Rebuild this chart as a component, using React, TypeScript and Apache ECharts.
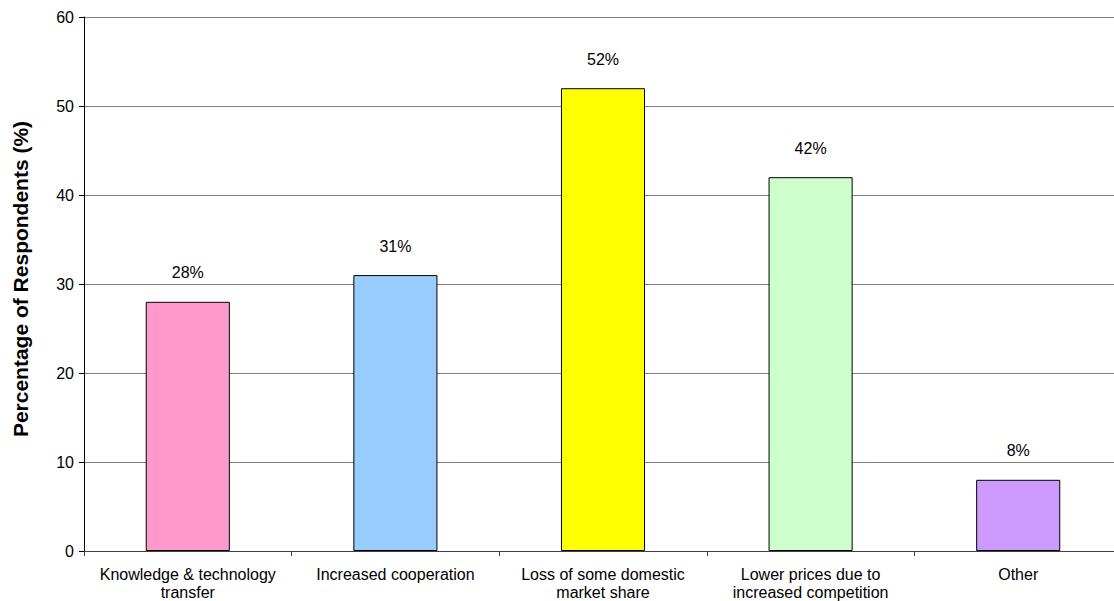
import React, { useEffect, useRef } from "react";
import * as echarts from "echarts";

const categories = [
  "Knowledge & technology\ntransfer",
  "Increased cooperation",
  "Loss of some domestic\nmarket share",
  "Lower prices due to\nincreased competition",
  "Other",
];
const values = [28, 31, 52, 42, 8];
const barColors = ["#FF99CC", "#99CCFF", "#FFFF00", "#CCFFCC", "#CC99FF"];
const yTicks = [0, 10, 20, 30, 40, 50, 60];

export default function App() {
  const ref = useRef<HTMLDivElement>(null);
  useEffect(() => {
    if (!ref.current) return;
    const chart = echarts.init(ref.current, null, { renderer: "svg" });
    const font = "'Liberation Sans', Arial, sans-serif";
    chart.setOption({
      animation: false,
      grid: { left: 84, right: 0, top: 17, bottom: 49, containLabel: false },
      xAxis: {
        type: "category",
        data: categories,
        axisLine: { lineStyle: { color: "#404040", width: 1 } },
        axisTick: { show: true, length: 5, alignWithLabel: false, lineStyle: { color: "#404040" } },
        axisLabel: {
          color: "#000",
          fontFamily: font,
          fontSize: 16,
          lineHeight: 18,
          margin: 14,
          interval: 0,
        },
        splitLine: { show: false },
      },
      yAxis: {
        type: "value",
        min: yTicks[0],
        max: yTicks[yTicks.length - 1],
        interval: 10,
        name: "Percentage of Respondents (%)",
        nameLocation: "middle",
        nameGap: 53,
        nameTextStyle: {
          fontFamily: font,
          fontSize: 21,
          fontWeight: "bold",
          color: "#000",
          padding: [0, 0, 0, 10],
        },
        axisLine: { show: true, lineStyle: { color: "#000", width: 1 } },
        axisTick: { show: true, length: 5, lineStyle: { color: "#000" } },
        axisLabel: { color: "#000", fontFamily: font, fontSize: 16, margin: 10 },
        splitLine: { show: true, lineStyle: { color: "#808080", width: 1 } },
      },
      series: [
        {
          type: "bar",
          barWidth: "40.5%",
          data: values.map((v, i) => ({
            value: v,
            itemStyle: { color: barColors[i], borderColor: "#000", borderWidth: 1 },
          })),
          label: {
            show: true,
            position: "top",
            distance: 21,
            formatter: "{c}%",
            color: "#000",
            fontFamily: font,
            fontSize: 16,
          },
        },
      ],
    });
    return () => chart.dispose();
  }, []);
  return (
    <div style={{ width: 1114, height: 601, position: "absolute", left: 0, top: 0, overflow: "hidden" }}>
      <div ref={ref} style={{ width: 1122, height: 601 }} />
    </div>
  );
}
